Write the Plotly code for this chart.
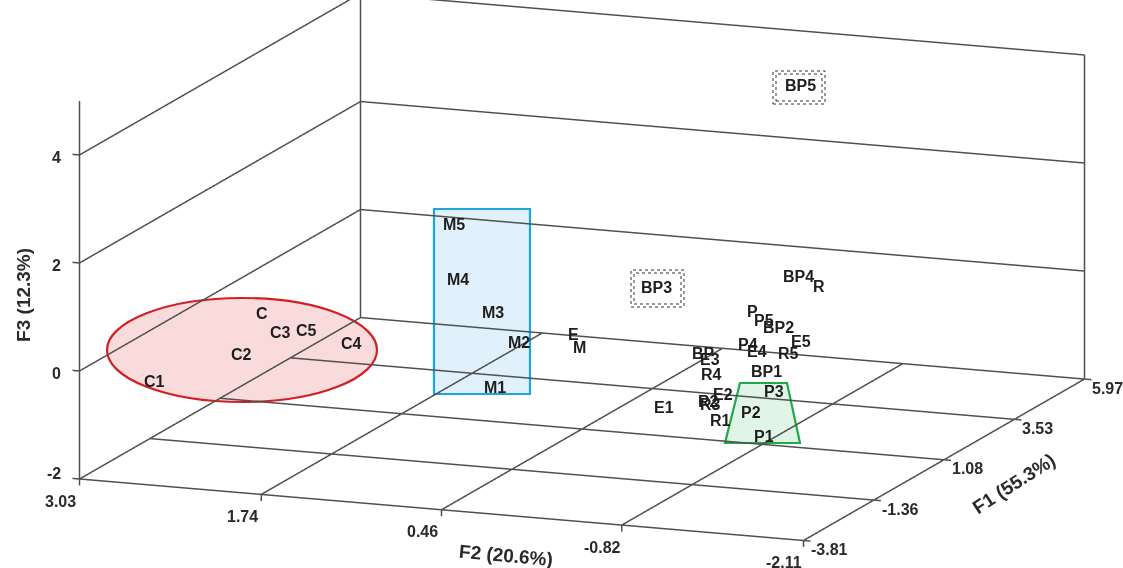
import plotly.graph_objects as go

# ---------------- data ----------------
LABELS = ["C1", "C2", "C", "C3", "C5", "C4",
          "M5", "M4", "M3", "M2", "M1", "M",
          "E", "E1", "E2", "E3", "E4", "E5",
          "R", "R1", "R2", "R3", "R4", "R5",
          "P", "P1", "P2", "P3", "P4", "P5",
          "BP", "BP1", "BP2", "BP3", "BP4", "BP5"]
F1 = [-2.83, -2.44, -1.66, -2.05, -1.85, -1.27,
      -0.39, -0.68, -0.49, -0.29, -0.88, 0.10,
      0.30, 0.10, 0.88, 1.37, 1.67, 2.64,
      3.43, 0.30, 0.69, 0.49, 1.28, 2.25,
      2.55, -0.49, 0.10, 0.69, 2.06, 2.45,
      1.57, 1.08, 2.25, 1.57, 3.23, 3.04]
F2 = [2.70, 2.16, 2.17, 1.96, 1.82, 1.62,
      1.07, 0.98, 0.77, 0.63, 0.68, 0.28,
      0.36, -0.32, -0.58, -0.39, -0.66, -0.78,
      -0.74, -0.68, -0.52, -0.57, -0.42, -0.77,
      -0.45, -1.15, -0.94, -0.98, -0.52, -0.55,
      -0.30, -0.85, -0.70, 0.03, -0.64, -0.69]
F3 = [-0.43, 0.08, 0.59, 0.41, 0.42, 0.05,
      2.10, 1.19, 0.56, -0.01, -0.69, -0.16,
      0.01, -1.13, -1.07, -0.61, -0.49, -0.59,
      0.19, -1.36, -1.15, -1.13, -0.85, -0.68,
      -0.07, -1.30, -1.08, -0.87, -0.51, -0.19,
      -0.59, -0.65, -0.22, 0.56, 0.41, 4.01]

F1_TICKS = [-3.81, -1.36, 1.08, 3.53, 5.97]
F2_TICKS = [3.03, 1.74, 0.46, -0.82, -2.11]
F3_TICKS = [-2, 0, 2, 4]
F3_AXIS_TOP = 5

F1_TITLE = "F1 (55.3%)"
F2_TITLE = "F2 (20.6%)"
F3_TITLE = "F3 (12.3%)"

# ---------------- styles ----------------
FONT = "Liberation Sans, Arial, sans-serif"
GRID_COLOR = "#505050"
TXT = "#1e1e1e"

x0, x1 = F1_TICKS[0], F1_TICKS[-1]
yl, yr = F2_TICKS[0], F2_TICKS[-1]
z0, zw = F3_TICKS[0], F3_TICKS[-1]

segs = []
for f1 in F1_TICKS:
    segs.append(((f1, yl, z0), (f1, yr, z0)))
for f2 in F2_TICKS:
    segs.append(((x0, f2, z0), (x1, f2, z0)))
for z in F3_TICKS:
    segs.append(((x1, yl, z), (x1, yr, z)))
    segs.append(((x0, yl, z), (x1, yl, z)))
segs.append(((x1, yl, z0), (x1, yl, zw)))
segs.append(((x1, yr, z0), (x1, yr, zw)))
segs.append(((x0, yl, z0), (x0, yl, F3_AXIS_TOP)))
for z in F3_TICKS:
    segs.append(((x0, yl, z), (x0, yl + 0.05, z)))
for f2 in F2_TICKS:
    segs.append(((x0, f2, z0), (x0, f2, z0 - 0.12)))
for f1 in F1_TICKS:
    segs.append(((f1, yr, z0), (f1, yr - 0.05, z0)))

gx, gy, gz = [], [], []
for a, b in segs:
    gx += [a[0], b[0], None]
    gy += [a[1], b[1], None]
    gz += [a[2], b[2], None]

fig = go.Figure()
fig.add_trace(go.Scatter3d(x=gx, y=gy, z=gz, mode="lines",
                           line=dict(color=GRID_COLOR, width=3),
                           hoverinfo="skip", showlegend=False))
fig.add_trace(go.Scatter3d(x=F1, y=F2, z=F3, mode="markers",
                           marker=dict(size=1, color="rgba(0,0,0,0)"),
                           text=LABELS, hoverinfo="text", showlegend=False))

ann = []
for lab, a, b, c in zip(LABELS, F1, F2, F3):
    ann.append(dict(x=a, y=b, z=c, text="<b>%s</b>" % lab, showarrow=False,
                    font=dict(family=FONT, size=16, color=TXT)))
tick_font = dict(family=FONT, size=16, color="#2a2a2a")
for z in F3_TICKS:
    ann.append(dict(x=x0, y=yl, z=z, text="<b>%g</b>" % z, showarrow=False,
                    xanchor="right", xshift=-17, yshift=(6 if z == z0 else -3), font=tick_font))
for f2 in F2_TICKS:
    ann.append(dict(x=x0, y=f2, z=z0, text="<b>%.2f</b>" % f2, showarrow=False,
                    xshift=-19, yshift=-22, font=tick_font))
for f1 in F1_TICKS:
    ann.append(dict(x=f1, y=yr, z=z0, text="<b>%.2f</b>" % f1, showarrow=False,
                    xanchor="left", xshift=6, yshift=-9, font=tick_font))
title_font = dict(family=FONT, size=19, color="#2a2a2a")
ann.append(dict(x=x0, y=yl, z=1.4, text="<b>%s</b>" % F3_TITLE, showarrow=False,
                textangle=-90, xshift=-56, font=title_font))
ann.append(dict(x=x0, y=0.0, z=z0, text="<b>%s</b>" % F2_TITLE, showarrow=False,
                textangle=5, yshift=-40, font=title_font))
ann.append(dict(x=0.6, y=yr, z=z0, text="<b>%s</b>" % F1_TITLE, showarrow=False,
                textangle=-33, xshift=84, yshift=-16, font=title_font))

# ---------------- group outlines (paper coordinates) ----------------
W, H = 1123, 568
def px(x):
    return x / W
def py(y):
    return 1 - y / H

shapes = [
    dict(type="circle", xref="paper", yref="paper", layer="below",
         x0=px(107), x1=px(377), y0=py(402), y1=py(298),
         line=dict(color="#d21f26", width=2.2), fillcolor="rgba(246,190,190,0.55)"),
    dict(type="rect", xref="paper", yref="paper", layer="below",
         x0=px(434), x1=px(530), y0=py(394), y1=py(209),
         line=dict(color="#1ea6dc", width=2.2), fillcolor="rgba(205,232,248,0.6)"),
    dict(type="path", xref="paper", yref="paper", layer="below",
         path="M %f %f L %f %f L %f %f L %f %f Z" % (px(740), py(383), px(787), py(383),
                                                       px(800), py(443), px(725), py(443)),
         line=dict(color="#21a84a", width=2.2), fillcolor="rgba(205,238,215,0.6)"),
]
for (bx0, by0, bx1, by1) in [(773, 71, 825, 104), (631, 270, 684, 307)]:
    shapes.append(dict(type="rect", xref="paper", yref="paper", layer="above",
                       x0=px(bx0), x1=px(bx1), y0=py(by1), y1=py(by0),
                       line=dict(color="#333", width=1, dash="dot")))
    shapes.append(dict(type="rect", xref="paper", yref="paper", layer="above",
                       x0=px(bx0 + 3), x1=px(bx1 - 3), y0=py(by1 - 3), y1=py(by0 + 3),
                       line=dict(color="#333", width=1, dash="dot")))

# axis ranges padded a little so the drawn frame is not clipped at the bounds
PAD = 0.03
xr = [x0 - PAD * (x1 - x0), x1 + PAD * (x1 - x0)]
yrng = [yr - PAD * (yl - yr), yl + PAD * (yl - yr)]
zr = [z0 - PAD * (F3_AXIS_TOP - z0), F3_AXIS_TOP + PAD * (F3_AXIS_TOP - z0)]
S = 1 + 2 * PAD

# camera: orthographic, azimuth ~201 deg, elevation ~12.8 deg
D = 3.5
edir = (-0.9103, -0.3500, 0.2209)
cen = (-0.0580, 0.0550, -0.1511)
eye = dict(x=cen[0] + D * edir[0], y=cen[1] + D * edir[1], z=cen[2] + D * edir[2])

ax_off = dict(visible=False, showspikes=False)
fig.update_layout(
    width=W, height=H, margin=dict(l=0, r=0, t=0, b=0),
    paper_bgcolor="white", showlegend=False, shapes=shapes,
    scene=dict(
        domain=dict(x=[0, 1], y=[0, 1]),
        xaxis=dict(range=xr, **ax_off),
        yaxis=dict(range=yrng, **ax_off),
        zaxis=dict(range=zr, **ax_off),
        aspectmode="manual", aspectratio=dict(x=2.757 * S, y=2.731 * S, z=1.365 * S),
        camera=dict(eye=eye, center=dict(x=cen[0], y=cen[1], z=cen[2]),
                    up=dict(x=0, y=0, z=1), projection=dict(type="orthographic")),
        bgcolor="rgba(0,0,0,0)",
        annotations=ann,
    ),
)

fig.write_html("out.html", config={"displayModeBar": False},
               post_script="document.body.style.margin='0';")
